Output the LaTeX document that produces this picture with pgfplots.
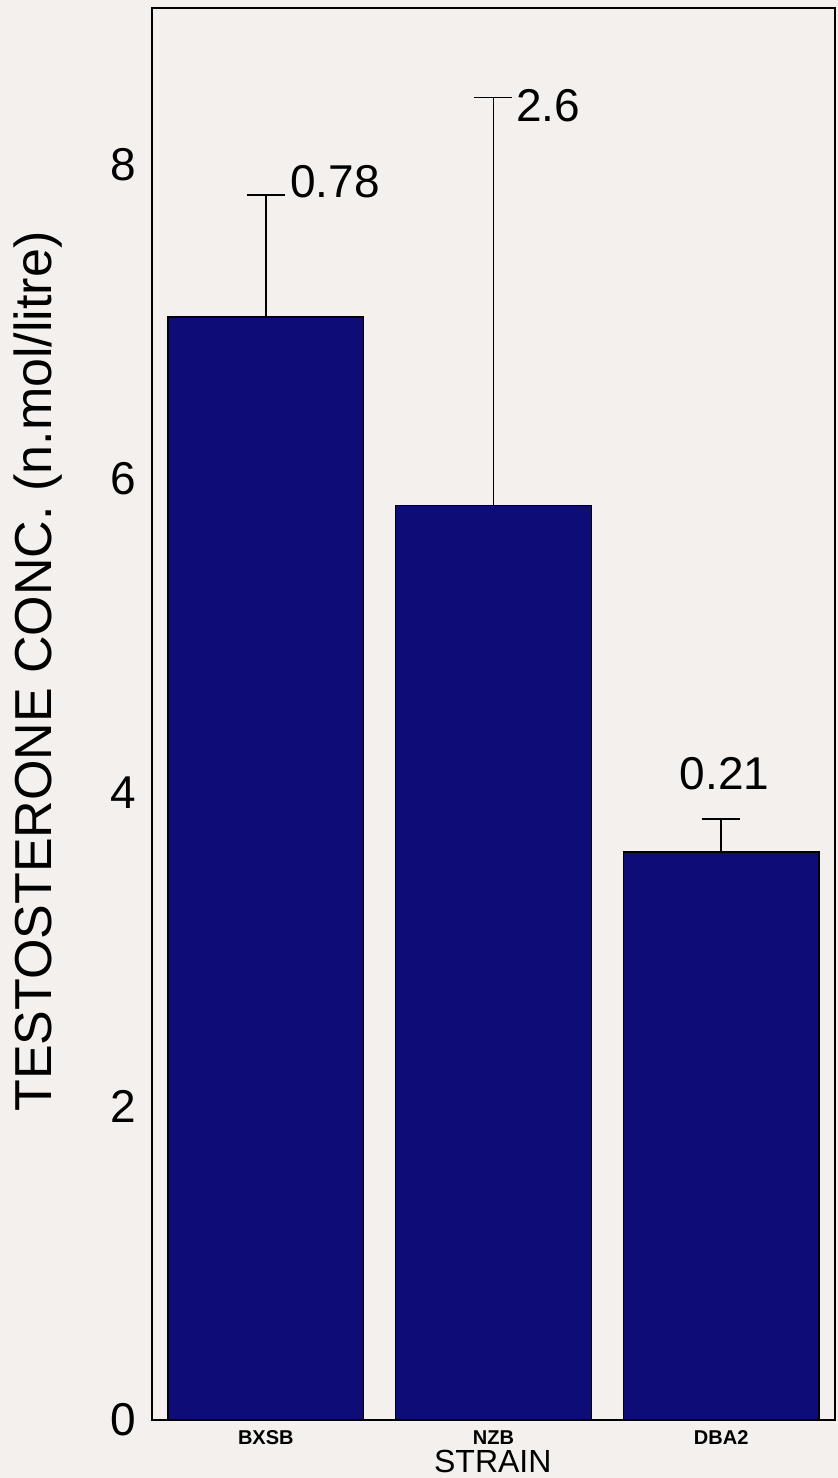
\documentclass[border=0pt]{standalone}
\usepackage{fontspec}
\setmainfont{Liberation Sans}
\usepackage{pgfplots}
\pgfplotsset{compat=1.18}
\definecolor{barnavy}{RGB}{14,12,118}
\definecolor{paper}{RGB}{244,240,237}

\begin{document}
\begin{tikzpicture}
% paper background
\fill[paper] (-76pt,-29pt) rectangle (343pt,710pt);
\begin{axis}[
  scale only axis,
  width=341.5pt, height=706pt,
  xmin=-0.5, xmax=2.5, ymin=0, ymax=9,
  xtick={0,1,2}, xticklabels={BXSB,NZB,DBA2},
  ytick={0,2,4,6,8},
  major tick length=0pt,
  axis line style={line width=1.3pt},
  /pgf/number format/assume math mode=true,
  yticklabel style={font=\fontsize{23}{23}\selectfont, xshift=-4.3pt},
  xticklabel style={font=\fontsize{10}{10}\selectfont\bfseries, yshift=-1.8pt},
  xlabel={STRAIN},
  ylabel={TESTOSTERONE CONC. (n.mol/litre)},
  every axis x label/.style={at={(axis description cs:0.499,0)}, anchor=center, yshift=-20.5pt, font=\fontsize{16}{16}\selectfont},
  every axis y label/.style={at={(axis description cs:-0.167,0.53)}, anchor=center, rotate=90, font=\fontsize{26}{26}\selectfont},
  clip=false,
]
\addplot[ybar, bar width=0.86, fill=barnavy, draw=black, line width=0.6pt,
  error bars/.cd, y dir=plus, y explicit, error mark=-,
  error bar style={line width=0.9pt, black},
  error mark options={rotate=90, line width=0.9pt, mark size=9.5pt, black}]
  table[x=x, y=y, y error=e] {
  x  y     e
  0  7.03  0.78
  1  5.83  2.6
  2  3.62  0.21
  };
\node[font=\fontsize{23}{23}\selectfont] at (axis cs:0.304,7.89) {0.78};
\node[font=\fontsize{23}{23}\selectfont] at (axis cs:1.24,8.38) {2.6};
\node[font=\fontsize{23}{23}\selectfont] at (axis cs:2.015,4.12) {0.21};
\end{axis}
\pgfresetboundingbox
\path (-76pt,-29pt) rectangle (343pt,710pt);
\end{tikzpicture}
\end{document}
